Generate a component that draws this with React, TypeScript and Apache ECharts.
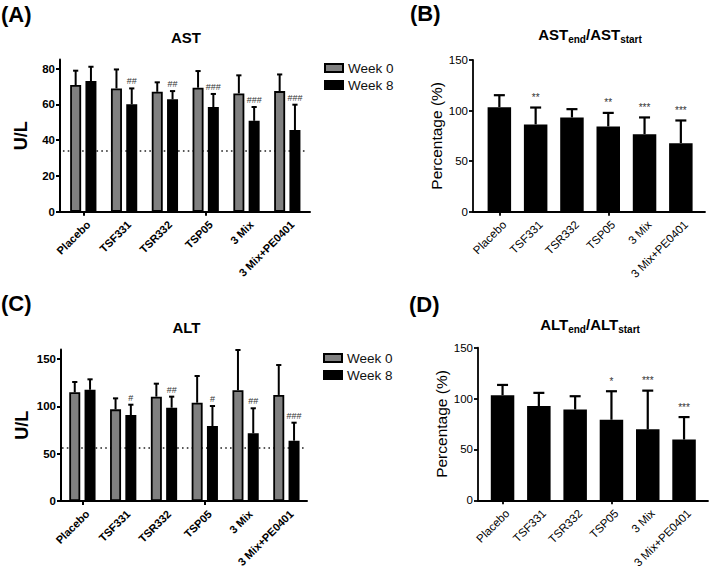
import React, { useEffect, useRef } from "react";
import * as echarts from "echarts";

// ---------- data ----------
const categories = ["Placebo", "TSF331", "TSR332", "TSP05", "3 Mix", "3 Mix+PE0401"];

// (A) AST, U/L
const astWeek0 = [70.8, 68.9, 67.0, 69.3, 66.1, 67.4];
const astWeek0Sd = [8.0, 10.6, 5.3, 9.3, 10.1, 9.3];
const astWeek8 = [73.0, 60.0, 62.8, 58.5, 50.8, 45.6];
const astWeek8Sd = [8.0, 8.9, 4.6, 7.3, 7.7, 14.2];
const astWeek8Marks = ["", "##", "##", "###", "###", "###"];
const astReference = 34;
const astTicks = [0, 20, 40, 60, 80];
const astMax = 85;

// (B) AST end / start, %
const astRatio = [103.4, 86.3, 93.2, 84.3, 76.7, 67.8];
const astRatioSd = [11.8, 16.7, 8.2, 13.4, 16.5, 22.4];
const astRatioMarks = ["", "**", "", "**", "***", "***"];

// (C) ALT, U/L
const altWeek0 = [114.8, 96.8, 110.2, 103.8, 116.9, 112.0];
const altWeek0Sd = [10.9, 11.6, 13.7, 28.2, 42.6, 31.6];
const altWeek8 = [117.5, 90.8, 98.5, 79.2, 71.5, 63.7];
const altWeek8Sd = [11.0, 10.9, 11.7, 21.1, 26.4, 19.0];
const altWeek8Marks = ["", "#", "##", "#", "##", "###"];
const altReference = 56;
const altTicks = [0, 50, 100, 150];
const altMax = 160;

// (D) ALT end / start, %
const altRatio = [103.3, 92.6, 89.3, 79.2, 69.8, 59.7];
const altRatioSd = [10.1, 13.0, 13.0, 28.0, 38.0, 22.1];
const altRatioMarks = ["", "", "", "*", "***", "***"];

const pctTicks = [0, 50, 100, 150];
const pctMax = 150;

const seriesNames = ["Week 0", "Week 8"];

// ---------- styling ----------
const FONT = "'Liberation Sans', Arial, Helvetica, sans-serif";
const GROUP_BAR_W = 11;
const GROUP_BAR_GAP = 0.39;
const GROUP_OFFSET = (GROUP_BAR_W * (1 + GROUP_BAR_GAP)) / 2;

function errorSeries(
  axisIndex: number,
  means: number[],
  sds: number[],
  marks: string[],
  offset: number,
  capHalf: number,
  lineW: number,
  markGap: number,
  markSize: number
) {
  return {
    type: "custom",
    xAxisIndex: axisIndex,
    yAxisIndex: axisIndex,
    silent: true,
    z: 6,
    itemStyle: { color: "#333" },
    data: means.map((m, i) => [i, m, m + sds[i]]),
    renderItem: (params: any, api: any) => {
      const i = api.value(0);
      const base = api.coord([i, api.value(1)]);
      const top = api.coord([i, api.value(2)]);
      const x = base[0] + offset;
      const children: any[] = [
        { type: "line", shape: { x1: x, y1: base[1], x2: x, y2: top[1] }, style: { stroke: "#000", lineWidth: lineW } },
        { type: "line", shape: { x1: x - capHalf, y1: top[1], x2: x + capHalf, y2: top[1] }, style: { stroke: "#000", lineWidth: lineW } },
      ];
      const mark = marks[params.dataIndex];
      if (mark) {
        children.push({
          type: "text",
          x,
          y: top[1] - markGap,
          style: { text: mark, fill: "#333", font: `${markSize}px ${FONT}`, align: "center", verticalAlign: "middle" },
        });
      }
      return { type: "group", children };
    },
  };
}

// category labels, rotated 45°, anchored at each category's tick on the axis
function categoryLabelSeries(axisIndex: number, bold: boolean, fontSize: number, dx: number, dy: number) {
  return {
    type: "custom",
    xAxisIndex: axisIndex,
    yAxisIndex: axisIndex,
    silent: true,
    clip: false,
    z: 6,
    data: categories.map((_, i) => [i, 0]),
    renderItem: (params: any, api: any) => {
      const p = api.coord([api.value(0), 0]);
      return {
        type: "text",
        x: p[0] + dx,
        y: p[1] + dy,
        rotation: Math.PI / 4,
        style: {
          text: categories[params.dataIndex],
          fill: "#000",
          font: `${bold ? "bold " : ""}${fontSize}px ${FONT}`,
          align: "right",
          verticalAlign: "middle",
        },
      };
    },
  };
}

const refMarkLine = (value: number) => ({
  z: 1,
  silent: true,
  symbol: "none",
  label: { show: false },
  lineStyle: { type: [1.6, 3.2], color: "#222", width: 1.6 },
  data: [{ yAxis: value }],
});

type Panel = {
  outer: { left: number; width: number };
  inner: { left: number; width: number };
  top: number;
  height: number;
  max: number;
  ticks: number[];
  name: string;
  nameGap: number;
  bold: boolean;
  axisW: number;
};

const panels: Panel[] = [
  { outer: { left: 60, width: 250 }, inner: { left: 62.9, width: 244.8 }, top: 59.6, height: 152.1, max: astMax, ticks: astTicks, name: "U/L", nameGap: 30, bold: true, axisW: 2 },
  { outer: { left: 473, width: 232 }, inner: { left: 481.2, width: 217.8 }, top: 60, height: 151.7, max: pctMax, ticks: pctTicks, name: "Percentage (%)", nameGap: 26, bold: false, axisW: 1.8 },
  { outer: { left: 61, width: 246 }, inner: { left: 62, width: 244.8 }, top: 349.5, height: 151.5, max: altMax, ticks: altTicks, name: "U/L", nameGap: 30, bold: true, axisW: 2 },
  { outer: { left: 478, width: 230 }, inner: { left: 484.4, width: 217.8 }, top: 347.7, height: 152.6, max: pctMax, ticks: pctTicks, name: "Percentage (%)", nameGap: 29, bold: false, axisW: 1.8 },
];

function buildOption() {
  const grid: any[] = [];
  const xAxis: any[] = [];
  const yAxis: any[] = [];
  panels.forEach((p, k) => {
    const lineStyle = { color: "#000", width: p.axisW };
    grid.push({ left: p.outer.left, top: p.top, width: p.outer.width, height: p.height });
    grid.push({ left: p.inner.left, top: p.top, width: p.inner.width, height: p.height });
    xAxis.push({
      type: "category",
      gridIndex: 2 * k,
      data: categories,
      axisLine: { show: true, lineStyle },
      axisTick: { show: false },
      axisLabel: { show: false },
      splitLine: { show: false },
    });
    xAxis.push({
      type: "category",
      gridIndex: 2 * k + 1,
      data: categories,
      axisLine: { show: false, lineStyle },
      axisTick: { show: true, alignWithLabel: true, length: 4, lineStyle },
      axisLabel: { show: false },
      splitLine: { show: false },
    });
    yAxis.push({
      type: "value",
      gridIndex: 2 * k,
      min: 0,
      max: p.max,
      axisLine: { show: true, lineStyle },
      axisTick: { show: true, length: 4, lineStyle, customValues: p.ticks },
      axisLabel: {
        customValues: p.ticks,
        margin: 5,
        color: "#000",
        fontFamily: FONT,
        fontSize: 11.5,
        fontWeight: p.bold ? "bold" : "normal",
      },
      splitLine: { show: false },
      name: p.name,
      nameLocation: "middle",
      nameGap: p.nameGap,
      nameTextStyle: {
        color: "#000",
        fontFamily: FONT,
        fontSize: p.bold ? 18 : 15.5,
        fontWeight: p.bold ? "bold" : "normal",
      },
    });
    yAxis.push({ type: "value", gridIndex: 2 * k + 1, min: 0, max: p.max, show: false });
  });

  const groupBar = (axisIndex: number, name: string, data: number[], color: string, ref?: number) => ({
    type: "bar",
    name,
    xAxisIndex: axisIndex,
    yAxisIndex: axisIndex,
    data,
    barWidth: GROUP_BAR_W,
    barGap: `${GROUP_BAR_GAP * 100}%`,
    z: 3,
    itemStyle: { color, borderColor: "#000", borderWidth: 1.8 },
    ...(ref !== undefined ? { markLine: refMarkLine(ref) } : {}),
  });
  const singleBar = (axisIndex: number, data: number[]) => ({
    type: "bar",
    name: "ratio",
    xAxisIndex: axisIndex,
    yAxisIndex: axisIndex,
    data,
    barWidth: 23.5,
    z: 3,
    itemStyle: { color: "#000" },
  });

  const blank = categories.map(() => "");
  const series: any[] = [
    // A
    groupBar(1, seriesNames[0], astWeek0, "#808080", astReference),
    groupBar(1, seriesNames[1], astWeek8, "#000"),
    errorSeries(1, astWeek0, astWeek0Sd, blank, -GROUP_OFFSET, 2.6, 2, 7, 9),
    errorSeries(1, astWeek8, astWeek8Sd, astWeek8Marks, GROUP_OFFSET, 2.6, 2, 7, 9),
    categoryLabelSeries(1, true, 11, 5, 11),
    // B
    singleBar(3, astRatio),
    errorSeries(3, astRatio, astRatioSd, astRatioMarks, 0, 5.5, 2.2, 10, 10),
    categoryLabelSeries(3, false, 11.5, 5, 11),
    // C
    groupBar(5, seriesNames[0], altWeek0, "#808080", altReference),
    groupBar(5, seriesNames[1], altWeek8, "#000"),
    errorSeries(5, altWeek0, altWeek0Sd, blank, -GROUP_OFFSET, 2.6, 2, 7, 9),
    errorSeries(5, altWeek8, altWeek8Sd, altWeek8Marks, GROUP_OFFSET, 2.6, 2, 7, 9),
    categoryLabelSeries(5, true, 11, 5, 11),
    // D
    singleBar(7, altRatio),
    errorSeries(7, altRatio, altRatioSd, altRatioMarks, 0, 5.5, 2.2, 10, 10),
    categoryLabelSeries(7, false, 11.5, 5, 11),
  ];

  const legendBase = {
    orient: "vertical",
    data: seriesNames,
    itemWidth: 18,
    itemHeight: 8,
    itemGap: 3,
    padding: 0,
    icon: "rect",
    selectedMode: false,
    itemStyle: { borderColor: "#000", borderWidth: 2 },
    textStyle: { fontFamily: FONT, fontSize: 13.5, color: "#111" },
  };

  const titleText = (x: number, y: number, text: string) => ({
    type: "text",
    x,
    y,
    style: { text, fill: "#000", font: `bold 15px ${FONT}`, align: "center", verticalAlign: "middle" },
  });
  const ratioTitle = (x: number, y: number, name: string) => ({
    type: "text",
    x,
    y,
    style: {
      text: `{m|${name}}{s|end}{m|/${name}}{s|start}`,
      fill: "#000",
      align: "center",
      verticalAlign: "middle",
      rich: {
        m: { fontFamily: FONT, fontSize: 15, fontWeight: "bold", lineHeight: 20 },
        s: { fontFamily: FONT, fontSize: 10, fontWeight: "bold", lineHeight: 10, verticalAlign: "bottom" },
      },
    },
  });
  const panelLabel = (x: number, y: number, text: string) => ({
    type: "text",
    x,
    y,
    style: { text, fill: "#000", font: `bold 22px ${FONT}`, align: "left", verticalAlign: "middle" },
  });

  return {
    animation: false,
    backgroundColor: "#fff",
    textStyle: { fontFamily: FONT },
    grid,
    xAxis,
    yAxis,
    legend: [
      { ...legendBase, left: 324, top: 61 },
      { ...legendBase, left: 323, top: 351 },
    ],
    series,
    graphic: [
      panelLabel(1, 14, "(A)"),
      panelLabel(410, 13, "(B)"),
      panelLabel(1, 303, "(C)"),
      panelLabel(409, 304, "(D)"),
      titleText(186, 37, "AST"),
      titleText(186.5, 327, "ALT"),
      ratioTitle(590, 34, "AST"),
      ratioTitle(590, 324, "ALT"),
    ],
  };
}

export default function App() {
  const ref = useRef<HTMLDivElement>(null);
  useEffect(() => {
    if (!ref.current) return;
    const chart = echarts.init(ref.current, undefined, { renderer: "svg" });
    chart.setOption(buildOption() as any);
    return () => chart.dispose();
  }, []);
  return (
    <div
      ref={ref}
      style={{ position: "fixed", left: 0, top: 0, width: 710, height: 572, background: "#fff" }}
    />
  );
}
